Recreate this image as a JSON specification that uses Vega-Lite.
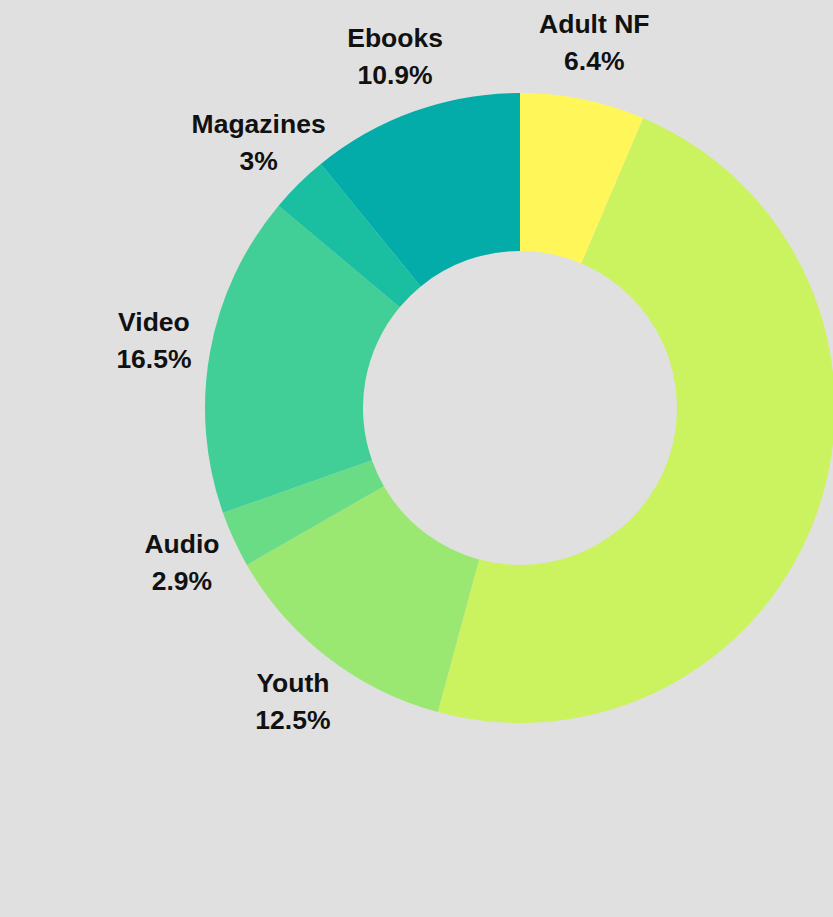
{
  "$schema": "https://vega.github.io/schema/vega-lite/v6.json",
  "width": 1040,
  "height": 816,
  "autosize": {"type": "none"},
  "padding": {"left": 0, "top": 0, "right": 0, "bottom": 101},
  "background": "#e0e0e0",
  "config": {"view": {"stroke": null}},
  "data": {
    "values": [
      {"rank": 1, "category": "Adult NF", "share": 0.064},
      {"rank": 2, "category": "Adult Fiction", "share": 0.478},
      {"rank": 3, "category": "Youth", "share": 0.125},
      {"rank": 4, "category": "Audio", "share": 0.029},
      {"rank": 5, "category": "Video", "share": 0.165},
      {"rank": 6, "category": "Magazines", "share": 0.03},
      {"rank": 7, "category": "Ebooks", "share": 0.109}
    ]
  },
  "encoding": {
    "theta": {"field": "share", "type": "quantitative", "stack": true},
    "order": {"field": "rank", "type": "quantitative"}
  },
  "layer": [
    {
      "mark": {"type": "arc", "outerRadius": 315, "innerRadius": 157},
      "encoding": {
        "color": {
          "field": "category",
          "type": "nominal",
          "scale": {
            "domain": ["Adult NF", "Adult Fiction", "Youth", "Audio", "Video", "Magazines", "Ebooks"],
            "range": ["#fff75a", "#cbf25f", "#9ae872", "#6adc85", "#41cf97", "#19bfa0", "#03aca8"]
          },
          "legend": null
        }
      }
    },
    {
      "mark": {"type": "text", "radius": 372, "dy": -18.5, "font": "Liberation Sans", "fontSize": 26.5, "fontWeight": "bold", "color": "#111111"},
      "encoding": {
        "text": {"field": "category", "type": "nominal"},
        "opacity": {"condition": {"test": "datum.category === 'Adult Fiction'", "value": 0}, "value": 1}
      }
    },
    {
      "mark": {"type": "text", "radius": 372, "dy": 18.5, "font": "Liberation Sans", "fontSize": 26.5, "fontWeight": "bold", "color": "#111111"},
      "encoding": {
        "text": {"field": "share", "type": "quantitative", "format": ".1~%"},
        "opacity": {"condition": {"test": "datum.category === 'Adult Fiction'", "value": 0}, "value": 1}
      }
    }
  ]
}
